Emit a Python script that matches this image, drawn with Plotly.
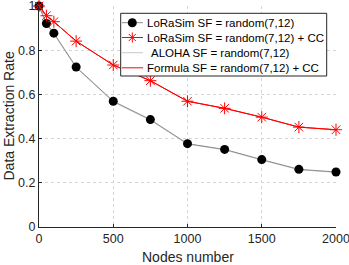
import plotly.graph_objects as go

nodes = [0, 50, 100, 250, 500, 750, 1000, 1250, 1500, 1750, 2000]
lorasim = [1.0, 0.921, 0.877, 0.724, 0.569, 0.486, 0.377, 0.351, 0.305, 0.261, 0.249]
lorasim_cc = [1.0, 0.956, 0.929, 0.841, 0.733, 0.662, 0.569, 0.537, 0.497, 0.452, 0.440]
aloha = [1.0, 0.918, 0.874, 0.721, 0.566, 0.483, 0.375, 0.349, 0.303, 0.259, 0.247]
formula_cc = [1.0, 0.956, 0.929, 0.841, 0.733, 0.662, 0.569, 0.537, 0.497, 0.452, 0.440]

names = ["LoRaSim SF = random(7,12)", "LoRaSim SF = random(7,12) + CC",
         "ALOHA SF = random(7,12)", "Formula SF = random(7,12) + CC"]
xticks = [0, 500, 1000, 1500, 2000]
yticks = [0, 0.2, 0.4, 0.6, 0.8, 1]

FONT = "Liberation Sans, Arial, Helvetica, sans-serif"
TXT = "#262626"
GRAY = "#8c8c8c"
LGRAY = "#c8c8c8"
RED = "#ff0000"

W, H = 349, 265
L, R, T, B = 39, 13, 6, 38

fig = go.Figure()
fig.add_trace(go.Scatter(x=nodes, y=aloha, mode="lines", name=names[2],
                         line=dict(color=LGRAY, width=1), cliponaxis=False, showlegend=False))
fig.add_trace(go.Scatter(x=nodes, y=lorasim, mode="lines+markers", name=names[0],
                         line=dict(color=GRAY, width=1),
                         marker=dict(color="black", size=9, symbol="circle"),
                         cliponaxis=False, showlegend=False))
fig.add_trace(go.Scatter(x=nodes, y=formula_cc, mode="lines", name=names[3],
                         line=dict(color=RED, width=1), cliponaxis=False, showlegend=False))
fig.add_trace(go.Scatter(x=nodes, y=lorasim_cc, mode="lines+markers", name=names[1],
                         line=dict(color=RED, width=1),
                         marker=dict(color=RED, size=10, symbol="asterisk-open",
                                     line=dict(color=RED, width=1)),
                         cliponaxis=False, showlegend=False))

# manual legend (matches the compact MATLAB-style legend box)
pw, ph = W - L - R, H - T - B
def px(x):
    return (x - L) / pw
def py(y):
    return (H - B - y) / ph

shapes = [dict(type="rect", xref="paper", yref="paper", x0=px(120.7), x1=px(326.7),
               y0=py(76), y1=py(13.3), line=dict(color=TXT, width=1), fillcolor="white",
               layer="above")]
rows = [22.7, 37.5, 52.7, 67.8]
key_colors = [GRAY, RED, LGRAY, RED]
annotations = []
for i, (yy, c) in enumerate(zip(rows, key_colors)):
    shapes.append(dict(type="line", xref="paper", yref="paper", x0=px(122), x1=px(143),
                       y0=py(yy), y1=py(yy), line=dict(color=c, width=1), layer="above"))
    tx = 148.5 if i == 2 else 145.2
    annotations.append(dict(xref="paper", yref="paper", x=px(tx), y=py(yy), text=names[i],
                            showarrow=False, xanchor="left", yanchor="middle",
                            font=dict(family=FONT, size=11.5, color="black")))
# key markers
shapes.append(dict(type="circle", xref="paper", yref="paper", xsizemode="pixel", ysizemode="pixel",
                   xanchor=px(132.3), yanchor=py(rows[0]), x0=-4.5, x1=4.5, y0=-4.5, y1=4.5,
                   fillcolor="black", line=dict(color="black", width=0), layer="above"))
shapes.append(dict(type="path", xref="paper", yref="paper", xsizemode="pixel", ysizemode="pixel",
                   xanchor=px(132.3), yanchor=py(rows[1]),
                   path="M-5,0L5,0M0,-5L0,5M-3.5,-3.5L3.5,3.5M-3.5,3.5L3.5,-3.5",
                   line=dict(color=RED, width=1), layer="above"))

# axis titles
annotations.append(dict(xref="paper", yref="paper", x=px(187.5), y=py(257), text="Nodes number",
                        showarrow=False, xanchor="center", yanchor="middle",
                        font=dict(family=FONT, size=14, color=TXT)))
annotations.append(dict(xref="paper", yref="paper", x=px(8.5), y=py(116), text="Data Extraction Rate",
                        showarrow=False, xanchor="center", yanchor="middle", textangle=-90,
                        font=dict(family=FONT, size=14, color=TXT)))

fig.update_layout(
    width=W, height=H, margin=dict(l=L, r=R, t=T, b=B),
    paper_bgcolor="white", plot_bgcolor="white",
    font=dict(family=FONT, color=TXT, size=12.5),
    showlegend=False, shapes=shapes, annotations=annotations,
    xaxis=dict(range=[0, 2000], tickvals=xticks, ticktext=[str(v) for v in xticks],
               showline=True, linecolor=TXT, linewidth=1, ticks="inside", ticklen=3,
               tickcolor=TXT, showgrid=True, gridcolor="#d4d4d4", griddash="dot",
               gridwidth=1, zeroline=False, tickfont=dict(size=12.5),
               automargin=False, ticklabeloverflow="allow"),
    yaxis=dict(range=[0, 1], tickvals=yticks, ticktext=["0", "0.2", "0.4", "0.6", "0.8", "1"],
               showline=True, linecolor=TXT, linewidth=1, ticks="inside", ticklen=3,
               tickcolor=TXT, showgrid=True, gridcolor="#d4d4d4", griddash="dot",
               gridwidth=1, zeroline=False, tickfont=dict(size=12.5),
               automargin=False, ticklabeloverflow="allow"),
)

fig.write_html("out.html", config={"displayModeBar": False},
               post_script="document.body.style.margin='0';document.body.style.overflow='hidden';")
